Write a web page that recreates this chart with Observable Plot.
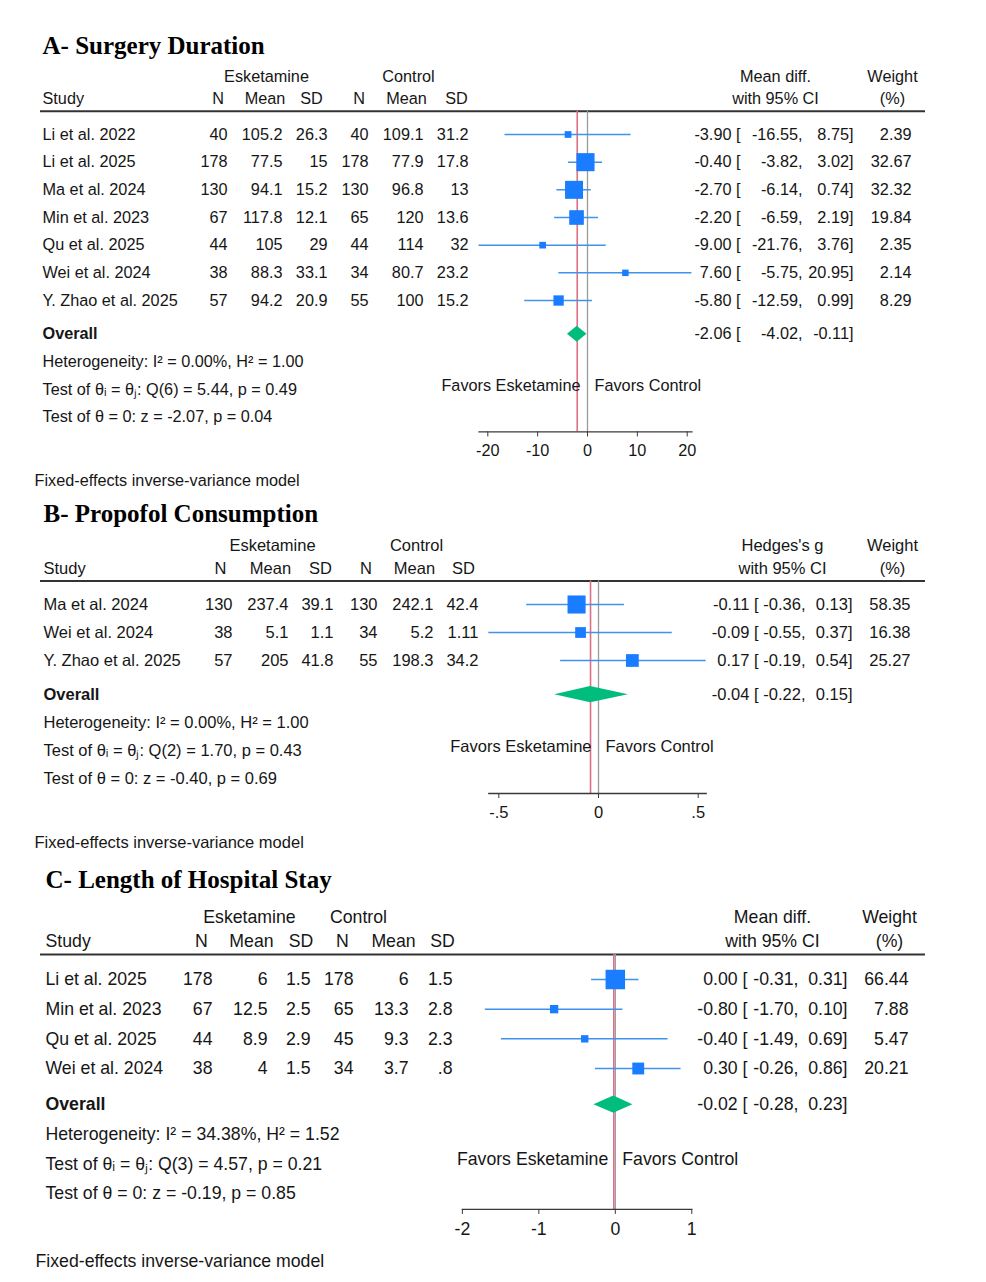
<!DOCTYPE html>
<html><head><meta charset="utf-8">
<script src="https://cdn.jsdelivr.net/npm/d3@7"></script>
<script src="https://cdn.jsdelivr.net/npm/@observablehq/plot@0.6"></script>
<style>
body{margin:0;background:#fff;width:986px;height:1282px;position:relative;overflow:hidden;font-family:"Liberation Sans",Arial,sans-serif}
.panel{position:absolute;left:0}
</style></head><body>
<div id="pA" class="panel"></div>
<div id="pB" class="panel"></div>
<div id="pC" class="panel"></div>
<script>
// ---------- Panel A: Surgery Duration ----------
const aTitle = "A- Surgery Duration";
const aEffectLabel = "Mean diff.";
const aStudies = ["Li et al. 2022","Li et al. 2025","Ma et al. 2024","Min et al. 2023","Qu et al. 2025","Wei et al. 2024","Y. Zhao et al. 2025"];
const aEskN = [40,178,130,67,44,38,57];
const aEskMean = [105.2,77.5,94.1,117.8,105,88.3,94.2];
const aEskSD = [26.3,15,15.2,12.1,29,33.1,20.9];
const aCtlN = [40,178,130,65,44,34,55];
const aCtlMean = [109.1,77.9,96.8,120,114,80.7,100];
const aCtlSD = [31.2,17.8,13,13.6,32,23.2,15.2];
const aEffect = [-3.90,-0.40,-2.70,-2.20,-9.00,7.60,-5.80];
const aLower = [-16.55,-3.82,-6.14,-6.59,-21.76,-5.75,-12.59];
const aUpper = [8.75,3.02,0.74,2.19,3.76,20.95,0.99];
const aWeight = [2.39,32.67,32.32,19.84,2.35,2.14,8.29];
const aOverall = [-2.06,-4.02,-0.11];
const aStats = ["Heterogeneity: I\u00B2 = 0.00%, H\u00B2 = 1.00","Test of \u03B8\u1D62 = \u03B8\u2C7C: Q(6) = 5.44, p = 0.49","Test of \u03B8 = 0: z = -2.07, p = 0.04"];
const aTicks = [-20,-10,0,10,20];

// ---------- Panel B: Propofol Consumption ----------
const bTitle = "B- Propofol Consumption";
const bEffectLabel = "Hedges's g";
const bStudies = ["Ma et al. 2024","Wei et al. 2024","Y. Zhao et al. 2025"];
const bEskN = [130,38,57];
const bEskMean = [237.4,5.1,205];
const bEskSD = [39.1,1.1,41.8];
const bCtlN = [130,34,55];
const bCtlMean = [242.1,5.2,198.3];
const bCtlSD = [42.4,1.11,34.2];
const bEffect = [-0.11,-0.09,0.17];
const bLower = [-0.36,-0.55,-0.19];
const bUpper = [0.13,0.37,0.54];
const bWeight = [58.35,16.38,25.27];
const bOverall = [-0.04,-0.22,0.15];
const bStats = ["Heterogeneity: I\u00B2 = 0.00%, H\u00B2 = 1.00","Test of \u03B8\u1D62 = \u03B8\u2C7C: Q(2) = 1.70, p = 0.43","Test of \u03B8 = 0: z = -0.40, p = 0.69"];
const bTicks = [-0.5,0,0.5];

// ---------- Panel C: Length of Hospital Stay ----------
const cTitle = "C- Length of Hospital Stay";
const cEffectLabel = "Mean diff.";
const cStudies = ["Li et al. 2025","Min et al. 2023","Qu et al. 2025","Wei et al. 2024"];
const cEskN = [178,67,44,38];
const cEskMean = [6,12.5,8.9,4];
const cEskSD = [1.5,2.5,2.9,1.5];
const cCtlN = [178,65,45,34];
const cCtlMean = [6,13.3,9.3,3.7];
const cCtlSD = [1.5,2.8,2.3,0.8];
const cEffect = [0.00,-0.80,-0.40,0.30];
const cLower = [-0.31,-1.70,-1.49,-0.26];
const cUpper = [0.31,0.10,0.69,0.86];
const cWeight = [66.44,7.88,5.47,20.21];
const cOverall = [-0.02,-0.28,0.23];
const cStats = ["Heterogeneity: I\u00B2 = 34.38%, H\u00B2 = 1.52","Test of \u03B8\u1D62 = \u03B8\u2C7C: Q(3) = 4.57, p = 0.21","Test of \u03B8 = 0: z = -0.19, p = 0.85"];
const cTicks = [-2,-1,0,1];

const colHeads = ["N","Mean","SD","N","Mean","SD"];
const model = "Fixed-effects inverse-variance model";

// ---------- layout (pixels) ----------
const layouts = {
  A: {top:10, height:485, y0:134, step:27.67, x0:587, k:4.985, fs:16.25, rmax:10.2, rmin:1.4, titleY:45,
      studyX:42, fixedX:34, grpX:[266,408], headX:[217.5,264.5,311,358.5,406,456], valX:[227,282,327,368,423,468],
      effX:740, loX:802, hiX:853, wX:911, ciHeadX:775, wHeadX:892},
  B: {top:495, height:360, y0:604, step:28, x0:598, k:199.4, fs:16.5, rmax:10.2, rmin:1.4, titleY:513,
      studyX:43, fixedX:34, grpX:[272,416], headX:[220,270,320,365.5,414,463], valX:[232,288,333,377,433,478],
      effX:758, loX:805, hiX:852, wX:910, ciHeadX:782, wHeadX:892},
  C: {top:855, height:427, y0:979, step:29.67, x0:614.8, k:76.47, fs:17.7, rmax:11, rmin:1.4, titleY:879,
      studyX:45, fixedX:35, grpX:[249,358], headX:[201,251,300.5,342,393,442], valX:[212,267,310,353,408,452],
      effX:747, loX:798, hiX:847, wX:908, ciHeadX:772, wHeadX:889}
};

const fmtV = v => String(v).replace(/^(-?)0\./, "$1.");
const f2 = v => v.toFixed(2);

function panel(d, L) {
  const n = d.studies.length;
  const rows = d.studies.map((s, i) => ({row:i, study:s, eskN:d.eskN[i], eskMean:d.eskMean[i], eskSD:d.eskSD[i],
    ctlN:d.ctlN[i], ctlMean:d.ctlMean[i], ctlSD:d.ctlSD[i], effect:d.effect[i], lower:d.lower[i], upper:d.upper[i], weight:d.weight[i]}));
  const xmin = d3.min([...d.lower, ...d.ticks]);
  const xmax = d3.max([...d.upper, ...d.ticks]);
  const ML = L.x0 + xmin * L.k;
  const MR = 986 - (L.x0 + xmax * L.k);
  const axisRow = n + 3.75;
  const topRow = (L.top - L.y0) / L.step;
  const MB = L.height - (L.y0 + axisRow * L.step - L.top);
  const px2x = px => xmin + (px - ML) / L.k;
  const ink = "#161616";
  const T = (data, text, px, anchor, extra = {}) =>
    Plot.text(data, {y: "row", text, frameAnchor: "left", dx: px - ML, textAnchor: anchor, fill: ink, ...extra});
  const [oe, olo, ohi] = d.overall;
  const oRow = n + 0.22;
  const half = 0.29;
  const diamond = [{x: olo, y1: oRow, y2: oRow}, {x: oe, y1: oRow - half, y2: oRow + half}, {x: ohi, y1: oRow, y2: oRow}];
  const cols = ["eskN","eskMean","eskSD","ctlN","ctlMean","ctlSD"];
  const marks = [
    // title
    T([{row: (L.titleY - L.y0) / L.step}], () => d.title, L.studyX, "start",
      {fontFamily: "Liberation Serif, Times New Roman, serif", fontWeight: "bold", fontSize: 25, fill: "#000"}),
    // group headers
    T([{row: -2.1}], () => "Esketamine", L.grpX[0], "middle"),
    T([{row: -2.1}], () => "Control", L.grpX[1], "middle"),
    T([{row: -2.1}], () => d.effectLabel, L.ciHeadX, "middle"),
    T([{row: -2.1}], () => "Weight", L.wHeadX, "middle"),
    T([{row: -1.29}], () => "Study", L.studyX, "start"),
    ...colHeads.map((h, j) => T([{row: -1.29}], () => h, L.headX[j], "middle")),
    T([{row: -1.29}], () => "with 95% CI", L.ciHeadX, "middle"),
    T([{row: -1.29}], () => "(%)", L.wHeadX, "middle"),
    Plot.ruleY([-0.84], {x1: px2x(40), x2: px2x(925), stroke: "#333", strokeWidth: 2}),
    // reference lines
    Plot.ruleX([0], {y1: -0.84, y2: axisRow, stroke: "#9a9a9a", strokeWidth: 1.3}),
    Plot.ruleX([oe], {y1: -0.84, y2: axisRow, stroke: "#de6f84", strokeWidth: 1.6}),
    // study rows
    T(rows, "study", L.studyX, "start"),
    ...cols.map((c, j) => T(rows, r => fmtV(r[c]), L.valX[j], "end")),
    Plot.ruleY(rows, {y: "row", x1: "lower", x2: "upper", stroke: "#3f93ea", strokeWidth: 1.5}),
    Plot.dot(rows, {x: "effect", y: "row", r: "weight", symbol: "square", fill: "#1a7dff", stroke: null}),
    T(rows, r => f2(r.effect) + " [", L.effX, "end"),
    T(rows, r => f2(r.lower) + ",", L.loX, "end"),
    T(rows, r => f2(r.upper) + "]", L.hiX, "end"),
    T(rows, r => f2(r.weight), L.wX, "end"),
    // overall
    T([{row: oRow}], () => "Overall", L.studyX, "start", {fontWeight: "bold"}),
    Plot.areaY(diamond, {x: "x", y1: "y1", y2: "y2", fill: "#00bd7e", curve: "linear"}),
    T([{row: oRow}], () => f2(oe) + " [", L.effX, "end"),
    T([{row: oRow}], () => f2(olo) + ",", L.loX, "end"),
    T([{row: oRow}], () => f2(ohi) + "]", L.hiX, "end"),
    ...d.stats.map((s, j) => T([{row: n + 1.22 + j}], () => s, L.studyX, "start")),
    Plot.text([{row: n + 2.07}], {x: () => 0, y: "row", text: () => "Favors Esketamine", dx: -7, textAnchor: "end", fill: ink}),
    Plot.text([{row: n + 2.07}], {x: () => 0, y: "row", text: () => "Favors Control", dx: 7, textAnchor: "start", fill: ink}),
    // axis
    Plot.frame({anchor: "bottom", stroke: "#3a3a3a", strokeWidth: 1.3}),
    Plot.axisX(d.ticks, {anchor: "bottom", tickSize: 5, tickPadding: 7.5, tickFormat: fmtV, stroke: "#3a3a3a", fill: ink}),
    T([{row: n + 5.5}], () => model, L.fixedX, "start")
  ];
  return Plot.plot({
    width: 986, height: L.height,
    marginLeft: ML, marginRight: MR, marginTop: 0, marginBottom: MB,
    x: {domain: [xmin, xmax], axis: null},
    y: {domain: [topRow, axisRow], reverse: true, axis: null},
    r: {type: "sqrt", domain: [0, d3.max(d.weight)], range: [L.rmin, L.rmax]},
    style: {fontFamily: "Liberation Sans, Arial, sans-serif", fontSize: L.fs + "px", background: "transparent", overflow: "visible"},
    marks
  });
}

const panels = {
  A: {title: aTitle, effectLabel: aEffectLabel, studies: aStudies, eskN: aEskN, eskMean: aEskMean, eskSD: aEskSD, ctlN: aCtlN, ctlMean: aCtlMean, ctlSD: aCtlSD,
      effect: aEffect, lower: aLower, upper: aUpper, weight: aWeight, overall: aOverall, stats: aStats, ticks: aTicks},
  B: {title: bTitle, effectLabel: bEffectLabel, studies: bStudies, eskN: bEskN, eskMean: bEskMean, eskSD: bEskSD, ctlN: bCtlN, ctlMean: bCtlMean, ctlSD: bCtlSD,
      effect: bEffect, lower: bLower, upper: bUpper, weight: bWeight, overall: bOverall, stats: bStats, ticks: bTicks},
  C: {title: cTitle, effectLabel: cEffectLabel, studies: cStudies, eskN: cEskN, eskMean: cEskMean, eskSD: cEskSD, ctlN: cCtlN, ctlMean: cCtlMean, ctlSD: cCtlSD,
      effect: cEffect, lower: cLower, upper: cUpper, weight: cWeight, overall: cOverall, stats: cStats, ticks: cTicks}
};
for (const key of ["A","B","C"]) {
  const host = document.getElementById("p" + key);
  host.style.top = layouts[key].top + "px";
  host.appendChild(panel(panels[key], layouts[key]));
}
</script>
</body></html>
